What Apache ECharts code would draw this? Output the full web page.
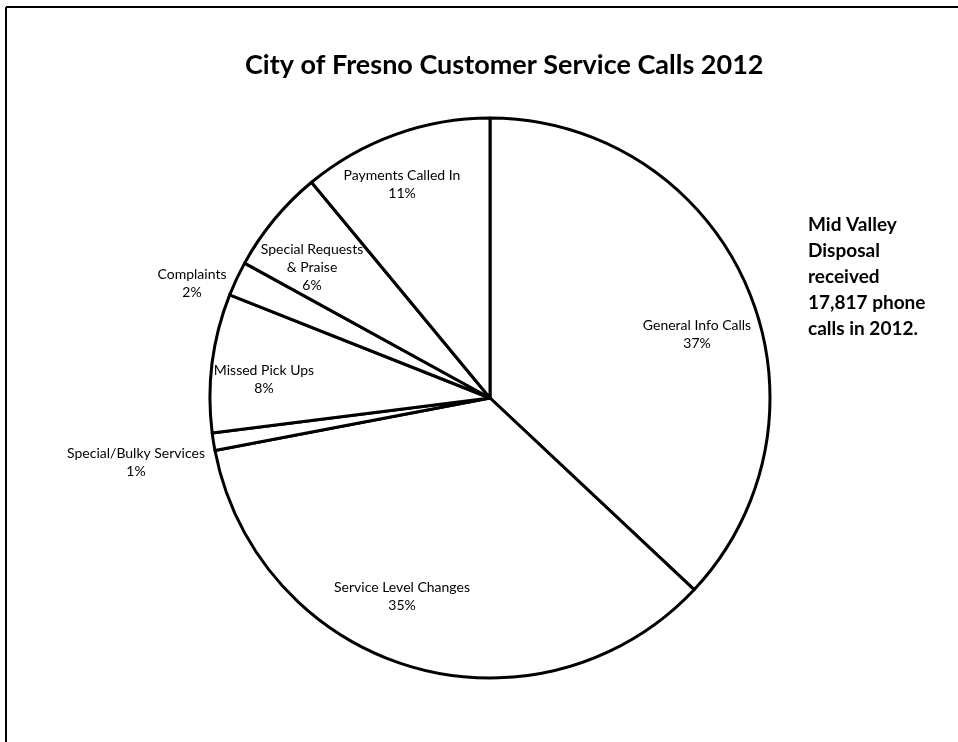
<!DOCTYPE html>
<html>
<head>
<meta charset="utf-8">
<script src="https://cdn.jsdelivr.net/npm/echarts@6/dist/echarts.min.js"></script>
<style>
html,body{margin:0;padding:0;background:#fff;}
#chart{width:958px;height:742px;}
</style>
</head>
<body>
<div id="chart"></div>
<script>
// Data
const titleText = 'City of Fresno Customer Service Calls 2012';
const categories = ['General Info Calls', 'Service Level Changes', 'Special/Bulky Services', 'Missed Pick Ups', 'Complaints', 'Special Requests & Praise', 'Payments Called In'];
const percents = [37, 35, 1, 8, 2, 6, 11];
const noteLines = ['Mid Valley', 'Disposal', 'received', '17,817 phone', 'calls in 2012.'];

// Label placement (layout only)
const labelPos = [[697, 334], [402, 596], [136, 462], [264, 379], [192, 283], [312, 267], [402, 184]];

const chart = echarts.init(document.getElementById('chart'), null, {renderer: 'canvas'});
const font = 'Lato, "Open Sans", sans-serif';

chart.setOption({
  backgroundColor: '#ffffff',
  animation: false,
  title: {
    text: titleText,
    left: 240,
    top: 47,
    textStyle: {fontFamily: font, fontSize: 27, fontWeight: 'bold', color: '#000'}
  },
  graphic: [
    {type: 'line', shape: {x1: 6, y1: 7, x2: 958, y2: 7}, style: {stroke: '#000', lineWidth: 2}},
    {type: 'line', shape: {x1: 6, y1: 7, x2: 6, y2: 742}, style: {stroke: '#000', lineWidth: 2}},
    {type: 'text', left: 808, top: 212,
      style: {text: noteLines.join('\n'), fontFamily: font, fontSize: 19, fontWeight: 'bold', lineHeight: 26, fill: '#000'}}
  ],
  series: [{
    type: 'pie',
    center: [490, 398],
    radius: 280,
    startAngle: 90,
    clockwise: true,
    avoidLabelOverlap: false,
    itemStyle: {color: '#ffffff', borderColor: '#000', borderWidth: 3},
    emphasis: {disabled: true},
    label: {
      show: true,
      position: 'inside',
      fontFamily: font,
      fontSize: 14,
      lineHeight: 18,
      color: '#000',
      formatter: p => p.name.replace(' & ', '\n& ') + '\n' + p.value + '%'
    },
    labelLine: {show: false},
    labelLayout: params => ({x: labelPos[params.dataIndex][0], y: labelPos[params.dataIndex][1], align: 'center', verticalAlign: 'middle'}),
    data: categories.map((c, i) => ({name: c, value: percents[i]}))
  }]
});
</script>
</body>
</html>
